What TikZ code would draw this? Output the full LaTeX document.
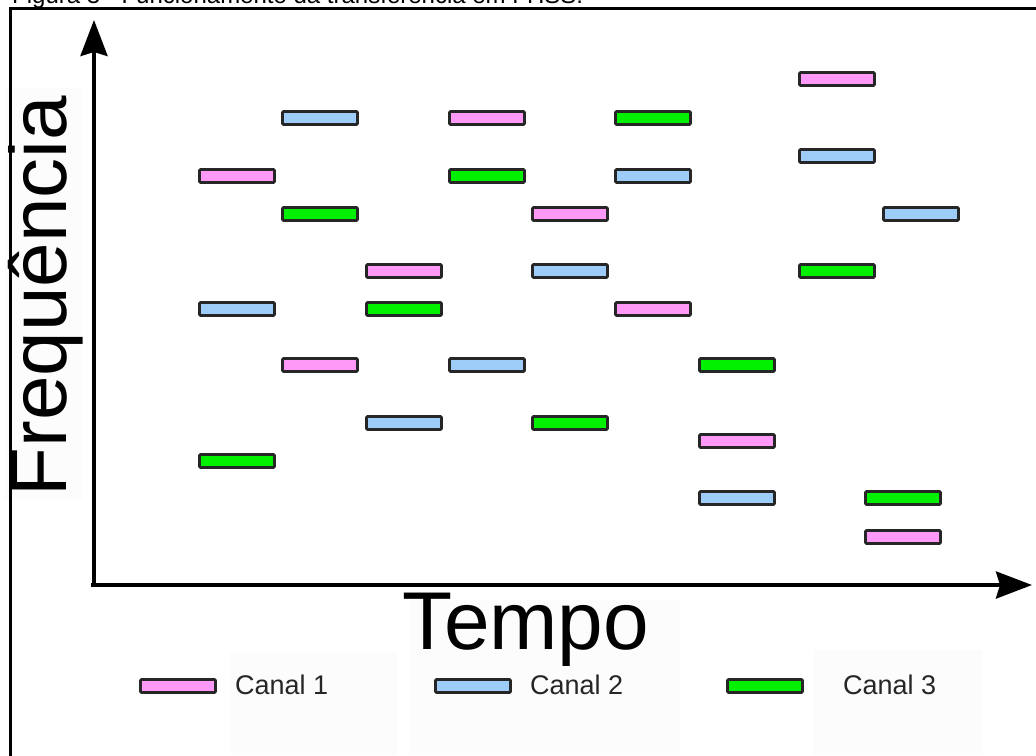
\documentclass[tikz,border=0pt]{standalone}
\usepackage{fontspec}
\setmainfont{Liberation Sans}
\usetikzlibrary{arrows.meta}
\definecolor{canalA}{HTML}{FF99F8}
\definecolor{canalB}{HTML}{9ECCF8}
\definecolor{canalC}{HTML}{00F000}
\definecolor{faint}{HTML}{FCFCFC}
\tikzset{
  hop/.style={draw=black!85, line width=2.8pt, rounded corners=1pt,
    minimum width=75pt, minimum height=13pt, inner sep=0pt},
  hopA/.style={hop, fill=canalA},
  hopB/.style={hop, fill=canalB},
  hopC/.style={hop, fill=canalC},
  axis/.style={line width=3.8pt, -{Stealth[length=36pt,width=27pt,inset=4pt]}},
  legtext/.style={anchor=west, inner sep=0pt, font=\fontsize{27}{27}\selectfont, text=black!85},
}
\begin{document}
\begin{tikzpicture}[x=1pt,y=-1pt]
\useasboundingbox (0,0) rectangle (1036,755);
\begin{scope}
\clip (0,0) rectangle (1036,755);
% caption above the frame, mostly cut off
\node[anchor=base west, inner sep=0pt, font=\fontsize{24}{24}\selectfont] (cap) at (12,3) {Figura 3 - Funcionamento da transferência em FHSS.};
% faint backdrops behind the labels
\fill[faint] (5,88) rectangle (82,500);
\fill[faint] (410,600) rectangle (680,755);
\fill[faint] (230,652) rectangle (397,755);
\fill[faint] (813,650) rectangle (982,755);
% frame
\draw[line width=3pt] (10.5,8) rectangle (1045,765);
\end{scope}

% axes
\coordinate (ytip) at (94,20);
\coordinate (xtip) at (1032,585);
\draw[axis] (94,587) -- (ytip);
\draw[axis] (91,585) -- (xtip);

\node[rotate=90, inner sep=0pt, font=\fontsize{80}{80}\selectfont] (ylab) at (46,296) {Frequência};
\node[inner sep=0pt, anchor=base, font=\fontsize{82}{82}\selectfont] (xlab) at (526,649) {Tempo};

% channel 1 hops
\node[hopA] (a1) at (837,79) {};
\node[hopA] (a2) at (487,118) {};
\node[hopA] (a3) at (237,176) {};
\node[hopA] (a4) at (570,214) {};
\node[hopA] (a5) at (404,271) {};
\node[hopA] (a6) at (653,309) {};
\node[hopA] (a7) at (320,365) {};
\node[hopA] (a8) at (737,441) {};
\node[hopA] (a9) at (903,537) {};
% channel 2 hops
\node[hopB] (b1) at (320,118) {};
\node[hopB] (b2) at (837,156) {};
\node[hopB] (b3) at (653,176) {};
\node[hopB] (b4) at (921,214) {};
\node[hopB] (b5) at (570,271) {};
\node[hopB] (b6) at (237,309) {};
\node[hopB] (b7) at (487,365) {};
\node[hopB] (b8) at (404,423) {};
\node[hopB] (b9) at (737,498) {};
% channel 3 hops
\node[hopC] (c1) at (653,118) {};
\node[hopC] (c2) at (487,176) {};
\node[hopC] (c3) at (320,214) {};
\node[hopC] (c4) at (837,271) {};
\node[hopC] (c5) at (404,309) {};
\node[hopC] (c6) at (737,365) {};
\node[hopC] (c7) at (570,423) {};
\node[hopC] (c8) at (237,461) {};
\node[hopC] (c9) at (903,498) {};

% legend
\node[hopA] (la) at (178,686) {};
\node[legtext] (ta) at (235,685) {Canal 1};
\node[hopB] (lb) at (473,686) {};
\node[legtext] (tb) at (530,685) {Canal 2};
\node[hopC] (lc) at (765,686) {};
\node[legtext] (tc) at (843,685) {Canal 3};
\end{tikzpicture}
\end{document}
